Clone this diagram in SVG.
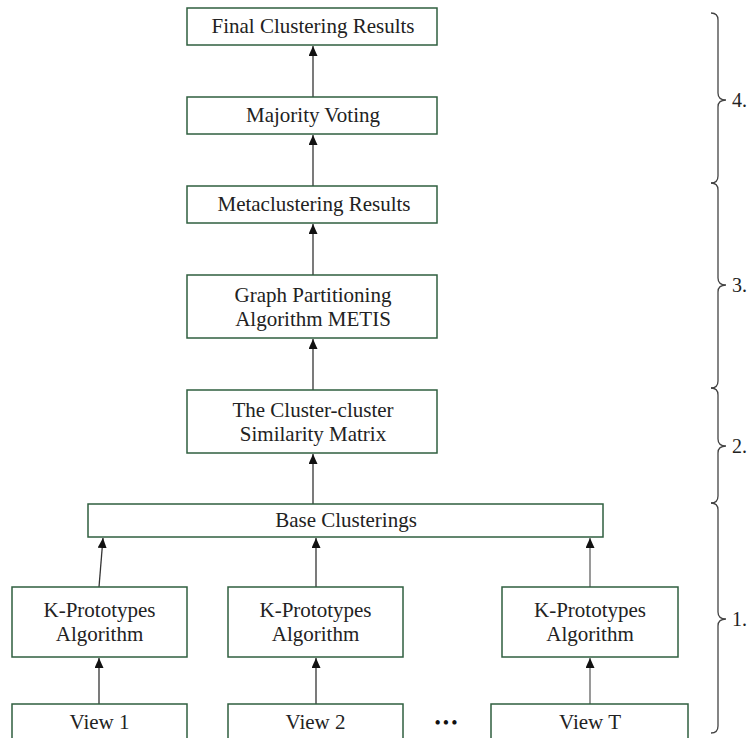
<svg xmlns="http://www.w3.org/2000/svg" width="751" height="738" viewBox="0 0 751 738">
<style>
.box{fill:#ffffff;stroke:#2f5f3f;stroke-width:1.5}
.t{font-family:"Liberation Serif","Times New Roman",serif;font-size:21px;fill:#222;text-anchor:middle}
.lab{font-family:"Liberation Serif","Times New Roman",serif;font-size:20px;fill:#222}
.c{stroke:#333;stroke-width:1.3;fill:none;marker-end:url(#ah)}
.cg{stroke:#808080;stroke-width:1.6;fill:none;marker-end:url(#ah)}
.br{stroke:#444;stroke-width:1.3;fill:none}
</style>
<defs>
<marker id="ah" markerUnits="userSpaceOnUse" markerWidth="11" markerHeight="10" refX="10" refY="4.5" orient="auto">
<path d="M0,0 L10,4.5 L0,9 z" fill="#111"/>
</marker>
</defs>
<rect width="751" height="738" fill="#ffffff"/>
<g id="connectors">
<line class="c" x1="313" y1="97" x2="313" y2="46"/>
<line class="c" x1="313" y1="186" x2="313" y2="135"/>
<line class="c" x1="313" y1="275" x2="313" y2="224"/>
<line class="c" x1="313" y1="390" x2="313" y2="339"/>
<line class="c" x1="313" y1="504" x2="313" y2="454"/>
<line class="c" x1="99" y1="587" x2="103" y2="538"/>
<line class="c" x1="316" y1="587" x2="316" y2="538"/>
<line class="cg" x1="590" y1="587" x2="590" y2="538"/>
<line class="c" x1="99" y1="704" x2="99" y2="658"/>
<line class="c" x1="316" y1="704" x2="316" y2="658"/>
<line class="cg" x1="590" y1="704" x2="590" y2="658"/>
</g>
<g id="final">
<rect class="box" x="187" y="8" width="250" height="37"/>
<text class="t" x="313" y="33">Final Clustering Results</text>
</g>
<g id="voting">
<rect class="box" x="187" y="97" width="250" height="37"/>
<text class="t" x="313" y="122">Majority Voting</text>
</g>
<g id="meta">
<rect class="box" x="187" y="186" width="250" height="37"/>
<text class="t" x="314" y="211">Metaclustering Results</text>
</g>
<g id="metis">
<rect class="box" x="187" y="275" width="250" height="63"/>
<text class="t" x="313" y="302">Graph Partitioning</text>
<text class="t" x="313" y="326">Algorithm METIS</text>
</g>
<g id="matrix">
<rect class="box" x="187" y="390" width="250" height="63"/>
<text class="t" x="313" y="417">The Cluster-cluster</text>
<text class="t" x="313" y="441">Similarity Matrix</text>
</g>
<g id="base">
<rect class="box" x="88" y="504" width="515" height="33"/>
<text class="t" x="346" y="527">Base Clusterings</text>
</g>
<g id="kp1">
<rect class="box" x="12" y="587" width="175" height="70"/>
<text class="t" x="99.5" y="617">K-Prototypes</text>
<text class="t" x="99.5" y="641">Algorithm</text>
</g>
<g id="kp2">
<rect class="box" x="228" y="587" width="175" height="70"/>
<text class="t" x="315.5" y="617">K-Prototypes</text>
<text class="t" x="315.5" y="641">Algorithm</text>
</g>
<g id="kpT">
<rect class="box" x="502" y="587" width="176" height="70"/>
<text class="t" x="590" y="617">K-Prototypes</text>
<text class="t" x="590" y="641">Algorithm</text>
</g>
<g id="view1">
<rect class="box" x="12" y="704" width="175" height="50"/>
<text class="t" x="99.5" y="729">View 1</text>
</g>
<g id="view2">
<rect class="box" x="228" y="704" width="175" height="50"/>
<text class="t" x="315.5" y="729">View 2</text>
</g>
<g id="viewT">
<rect class="box" x="491" y="704" width="197" height="50"/>
<text class="t" x="590" y="729">View T</text>
</g>
<text x="447" y="729" font-family="Liberation Serif, serif" font-size="18" letter-spacing="2" text-anchor="middle" fill="#111">•••</text>
<g id="braces">
<path class="br" d="M711,13 Q718,13 718,20 L718,93 Q718,100 726,100 Q718,100 718,107 L718,176 Q718,183 711,183"/>
<path class="br" d="M711,183 Q718,183 718,190 L718,278 Q718,285 726,285 Q718,285 718,292 L718,381 Q718,388 711,388"/>
<path class="br" d="M711,388 Q718,388 718,395 L718,439 Q718,446 726,446 Q718,446 718,453 L718,496 Q718,503 711,503"/>
<path class="br" d="M711,503 Q718,503 718,510 L718,612 Q718,619 726,619 Q718,619 718,626 L718,726 Q718,733 711,733"/>
<text class="lab" x="732" y="107">4.</text>
<text class="lab" x="732" y="292">3.</text>
<text class="lab" x="732" y="453">2.</text>
<text class="lab" x="732" y="626">1.</text>
</g>
</svg>
